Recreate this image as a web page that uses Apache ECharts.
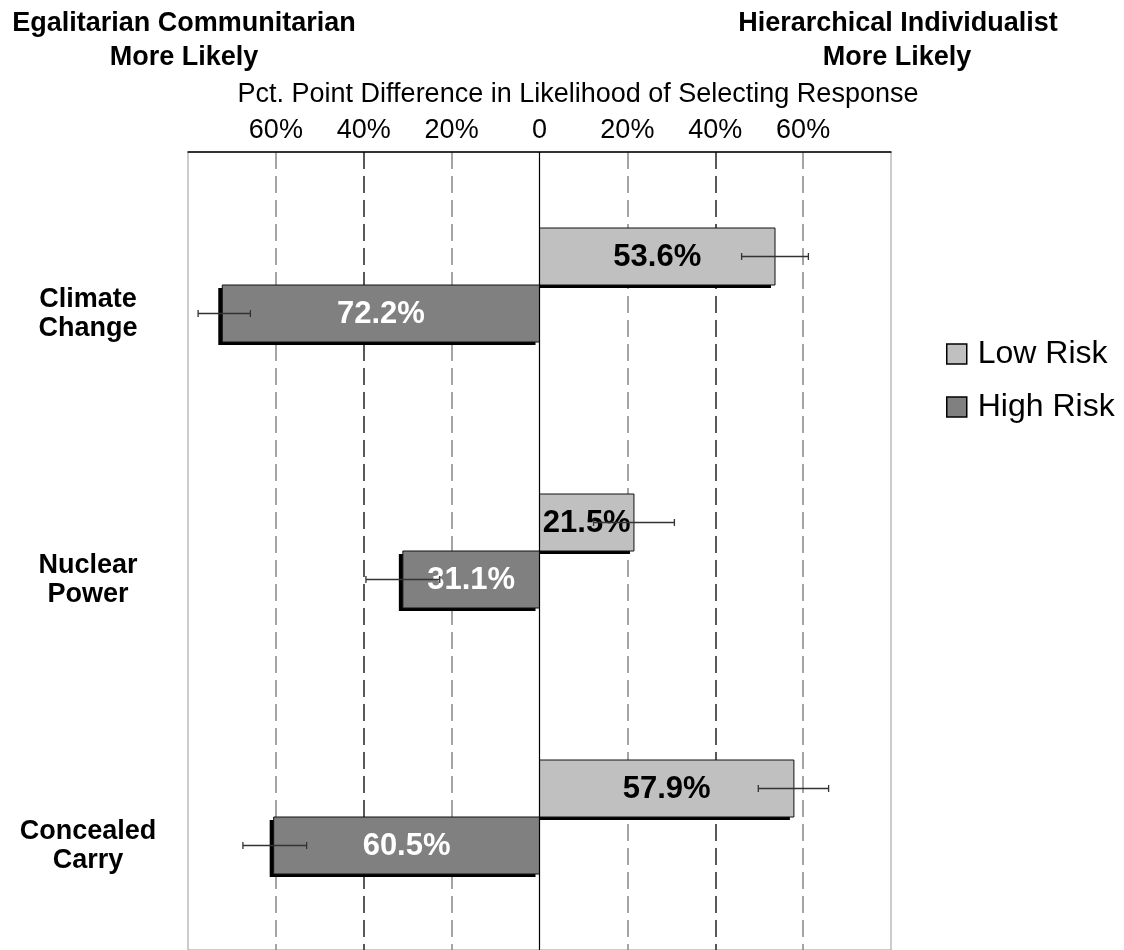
<!DOCTYPE html>
<html>
<head>
<meta charset="utf-8">
<script src="https://cdn.jsdelivr.net/npm/echarts@6/dist/echarts.min.js"></script>
<style>
html,body{margin:0;padding:0;background:#fff;}
#chart{width:1124px;height:950px;}
</style>
</head>
<body>
<div id="chart"></div>
<script>
const categories = ['Climate\nChange', 'Nuclear\nPower', 'Concealed\nCarry'];
const seriesNames = ['Low Risk', 'High Risk'];
const lowRisk = [53.6, 21.5, 57.9];
const highRisk = [-72.2, -31.1, -60.5];
const lowRiskErrLow = [46.0, 12.3, 49.8];
const lowRiskErrHigh = [61.2, 30.7, 65.8];
const highRiskErrLow = [-77.7, -39.5, -67.5];
const highRiskErrHigh = [-65.8, -22.7, -53.0];
const xTicks = [-80, -60, -40, -20, 0, 20, 40, 60, 80];

const FONT = 'Arial, "Liberation Sans", sans-serif';
const BAR_W = 57;
const COLORS = ['#C0C0C0', '#808080'];
const LABEL_COLORS = ['#000', '#fff'];

const errData = [];
for (let i = 0; i < categories.length; i++) {
  errData.push([i, lowRiskErrLow[i], lowRiskErrHigh[i], 0]);
  errData.push([i, highRiskErrLow[i], highRiskErrHigh[i], 1]);
}
const lowData = lowRisk.map((v, i) => [i, v]);
const highData = highRisk.map((v, i) => [i, v]);

function makeBarRender(s) {
  return function (params, api) {
    const cat = api.value(0);
    const v = api.value(1);
    const base = api.coord([0, cat]);
    const end = api.coord([v, cat]);
    const yTop = base[1] + (s === 0 ? -BAR_W : 0);
    const xL = Math.min(base[0], end[0]);
    const w = Math.abs(end[0] - base[0]);
    const shadow = s === 0
      ? { x: xL, y: yTop + 3, width: w - 4, height: BAR_W }
      : { x: xL - 4, y: yTop + 3, width: w, height: BAR_W };
    return {
      type: 'group',
      children: [
        { type: 'rect', shape: shadow, style: { fill: '#000' } },
        { type: 'rect', shape: { x: xL, y: yTop, width: w, height: BAR_W }, style: { fill: COLORS[s], stroke: '#111', lineWidth: 1 } },
        { type: 'text', x: xL + w / 2, y: yTop + BAR_W / 2 + 1, style: {
            text: Math.abs(v).toFixed(1) + '%', textAlign: 'center', textVerticalAlign: 'middle',
            font: 'bold 31px ' + FONT, fill: LABEL_COLORS[s] } }
      ]
    };
  };
}

const chart = echarts.init(document.getElementById('chart'));

chart.setOption({
  animation: false,
  backgroundColor: '#fff',
  textStyle: { fontFamily: FONT },
  grid: { left: 188, right: 233, top: 152, bottom: -1, show: true, borderColor: '#999', borderWidth: 1, containLabel: false },
  legend: {
    data: seriesNames,
    orient: 'vertical',
    left: 941,
    top: 333,
    itemWidth: 20,
    itemHeight: 20,
    itemGap: 21,
    icon: 'rect',
    itemStyle: { borderColor: '#000', borderWidth: 1.5 },
    textStyle: { fontFamily: FONT, fontSize: 32, lineHeight: 31, color: '#000', padding: [0, 0, 0, 6] }
  },
  graphic: [
    { type: 'text', x: 184, y: 24, style: { text: 'Egalitarian Communitarian', textAlign: 'center', textVerticalAlign: 'middle', font: 'bold 27px ' + FONT, fill: '#000' } },
    { type: 'text', x: 184, y: 58, style: { text: 'More Likely', textAlign: 'center', textVerticalAlign: 'middle', font: 'bold 27px ' + FONT, fill: '#000' } },
    { type: 'text', x: 898, y: 24, style: { text: 'Hierarchical Individualist', textAlign: 'center', textVerticalAlign: 'middle', font: 'bold 27px ' + FONT, fill: '#000' } },
    { type: 'text', x: 897, y: 58, style: { text: 'More Likely', textAlign: 'center', textVerticalAlign: 'middle', font: 'bold 27px ' + FONT, fill: '#000' } },
    { type: 'text', x: 578, y: 95, style: { text: 'Pct. Point Difference in Likelihood of Selecting Response', textAlign: 'center', textVerticalAlign: 'middle', font: '27px ' + FONT, fill: '#000' } }
  ],
  xAxis: {
    type: 'value',
    position: 'top',
    min: -80,
    max: 80,
    interval: 20,
    axisLine: { show: true, lineStyle: { color: '#000', width: 1.5 } },
    axisTick: { show: false },
    axisLabel: {
      margin: 8,
      fontSize: 27,
      color: '#000',
      fontFamily: FONT,
      formatter: (v) => v === 0 ? '0' : (Math.abs(v) === 80 ? '' : Math.abs(v) + '%')
    },
    splitLine: {
      show: true,
      lineStyle: {
        type: [17, 7],
        width: 1.5,
        color: xTicks.map(t => (t === 0 || Math.abs(t) === 80) ? 'rgba(0,0,0,0)' : (Math.abs(t) === 40 ? '#222' : '#888'))
      }
    }
  },
  yAxis: {
    type: 'category',
    data: categories,
    inverse: true,
    axisLine: { show: false },
    axisTick: { show: false },
    axisLabel: {
      margin: 100,
      align: 'center',
      verticalAlign: 'top',
      fontSize: 27,
      fontWeight: 'bold',
      lineHeight: 29,
      color: '#000',
      fontFamily: FONT
    }
  },
  series: [
    {
      name: 'zero',
      type: 'line',
      data: [],
      silent: true,
      markLine: {
        silent: true, symbol: 'none', animation: false,
        label: { show: false },
        lineStyle: { color: '#000', type: 'solid', width: 1.2 },
        data: [{ xAxis: 0 }]
      }
    },
    {
      name: seriesNames[0],
      type: 'custom',
      data: lowData,
      encode: { x: 1, y: 0 },
      itemStyle: { color: COLORS[0] },
      renderItem: makeBarRender(0),
      z: 3
    },
    {
      name: seriesNames[1],
      type: 'custom',
      data: highData,
      encode: { x: 1, y: 0 },
      itemStyle: { color: COLORS[1] },
      renderItem: makeBarRender(1),
      z: 3
    },
    {
      type: 'custom',
      name: 'err',
      data: errData,
      encode: { x: [1, 2], y: 0 },
      z: 5,
      silent: true,
      renderItem: function (params, api) {
        const cat = api.value(0);
        const lo = api.value(1);
        const hi = api.value(2);
        const s = api.value(3);
        const c = api.coord([0, cat]);
        const y = c[1] + (s === 0 ? -BAR_W / 2 : BAR_W / 2);
        const x1 = api.coord([lo, cat])[0];
        const x2 = api.coord([hi, cat])[0];
        const st = { stroke: '#333', lineWidth: 1.3 };
        return {
          type: 'group',
          children: [
            { type: 'line', shape: { x1: x1, y1: y, x2: x2, y2: y }, style: st },
            { type: 'line', shape: { x1: x1, y1: y - 3.5, x2: x1, y2: y + 3.5 }, style: st },
            { type: 'line', shape: { x1: x2, y1: y - 3.5, x2: x2, y2: y + 3.5 }, style: st }
          ]
        };
      }
    }
  ]
});
</script>
</body>
</html>
